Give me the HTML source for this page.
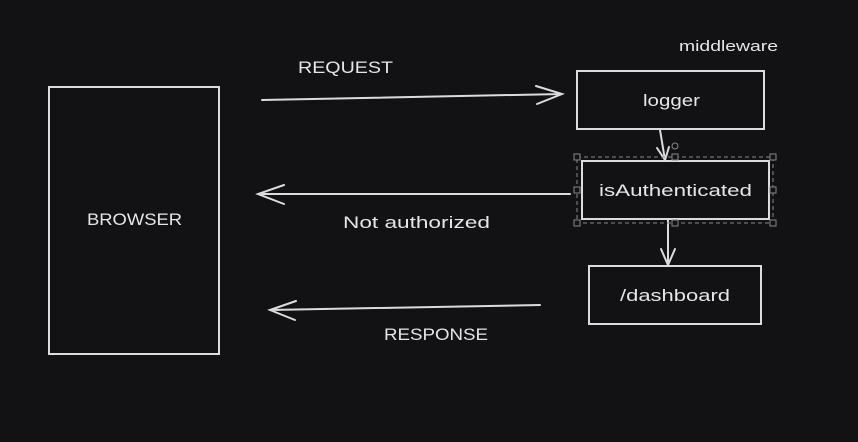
<!DOCTYPE html>
<html><head><meta charset="utf-8"><style>
html,body{margin:0;padding:0;background:#121214;}
svg{display:block;}
text{font-family:"Liberation Sans",sans-serif;fill:#e6e6e6;}
</style></head><body>
<svg width="858" height="442" viewBox="0 0 858 442">
<rect width="858" height="442" fill="#121214"/>
<g fill="none" stroke="#dcdcdc" stroke-width="2" stroke-linecap="round">
<rect x="49" y="87" width="170" height="267"/>
<rect x="577" y="71" width="187" height="58"/>
<rect x="582" y="161" width="187" height="58"/>
<rect x="589" y="266" width="172" height="58"/>
<path d="M262 100 L562 94 M536 86 L562 94 L537 104"/>
<path d="M570 194 L258 194 M284 185 L258 194 L284 204"/>
<path d="M540 305 L270 310 M296 301 L270 310 L295 320"/>
<path d="M660 130 L665 160 M657 148 L665 160 L669 147"/>
<path d="M668 220 L668 265 M661 249 L668 265 L675 249"/>
</g>
<g fill="none" stroke="#888" stroke-width="1">
<rect x="577" y="157" width="196" height="66" stroke-dasharray="4 3"/>
<rect x="574" y="154" width="6" height="6" fill="#121214"/>
<rect x="770" y="154" width="6" height="6" fill="#121214"/>
<rect x="574" y="220" width="6" height="6" fill="#121214"/>
<rect x="770" y="220" width="6" height="6" fill="#121214"/>
<rect x="574" y="187" width="6" height="6" fill="#121214"/>
<rect x="770" y="187" width="6" height="6" fill="#121214"/>
<rect x="672" y="154" width="6" height="6" fill="#121214"/>
<rect x="672" y="220" width="6" height="6" fill="#121214"/>
<circle cx="675" cy="146" r="3"/>
</g>
<text x="298" y="73" font-size="17" textLength="95" lengthAdjust="spacingAndGlyphs">REQUEST</text>
<text x="679" y="51" font-size="15" textLength="99" lengthAdjust="spacingAndGlyphs">middleware</text>
<text x="643" y="106" font-size="17" textLength="57" lengthAdjust="spacingAndGlyphs">logger</text>
<text x="599" y="196" font-size="17" textLength="153" lengthAdjust="spacingAndGlyphs">isAuthenticated</text>
<text x="620" y="301" font-size="17" textLength="110" lengthAdjust="spacingAndGlyphs">/dashboard</text>
<text x="87" y="225" font-size="17" textLength="95" lengthAdjust="spacingAndGlyphs">BROWSER</text>
<text x="343" y="228" font-size="17" textLength="147" lengthAdjust="spacingAndGlyphs">Not authorized</text>
<text x="384" y="340" font-size="17" textLength="104" lengthAdjust="spacingAndGlyphs">RESPONSE</text>
</svg>
</body></html>
